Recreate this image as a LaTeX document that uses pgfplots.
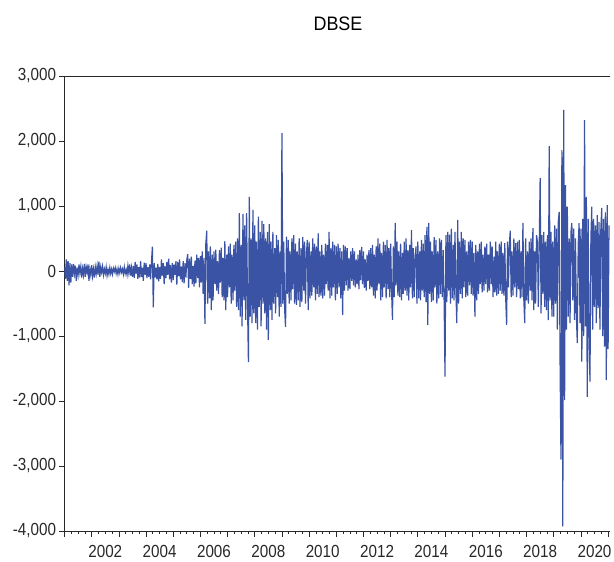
\documentclass[border=0pt]{standalone}
\usepackage{pgfplots}
\pgfplotsset{compat=1.18}
\usepackage{fontspec}
\setmainfont{Liberation Sans}
\newfontfamily\tickfont[FakeStretch=0.87]{Liberation Sans}
\newfontfamily\titlefont[FakeStretch=0.92]{Liberation Sans}
\definecolor{dbse}{RGB}{58,83,164}
\definecolor{axcol}{RGB}{40,40,40}
\begin{document}
\begin{tikzpicture}
\path[use as bounding box] (0,0) rectangle (614pt,562pt);
\begin{axis}[
  at={(64.5pt,31pt)}, anchor=south west,
  scale only axis, width=545.5pt, height=455pt,
  xmin=2001, xmax=2021.07, ymin=-4000, ymax=3000,
  axis lines*=left,
  axis line style={-, line width=0.8pt, axcol},
  tick align=outside,
  xtick={2001,2002,2003,2004,2005,2006,2007,2008,2009,2010,2011,2012,2013,2014,2015,2016,2017,2018,2019,2020,2021},
  xticklabels={},
  minor x tick num=3,
  major tick length=6pt, minor tick length=3pt,
  tick style={line width=0.7pt, axcol},
  extra x ticks={2002.5,2004.5,2006.5,2008.5,2010.5,2012.5,2014.5,2016.5,2018.5,2020.5},
  extra x tick labels={2002,2004,2006,2008,2010,2012,2014,2016,2018,2020},
  extra x tick style={major tick length=0pt},
  xticklabel style={font=\tickfont\fontsize{17.5}{20}\selectfont, anchor=north, yshift=-11pt, text=axcol},
  ytick={-4000,-3000,-2000,-1000,0,1000,2000,3000},
  yticklabels={{-4,000},{-3,000},{-2,000},{-1,000},0,{1,000},{2,000},{3,000}},
  yticklabel style={font=\tickfont\fontsize{17.5}{20}\selectfont, anchor=east, xshift=1pt, text=axcol},
]
\addplot[dbse, line width=1.2pt, line join=miter, mark=none] table[row sep=\\, x expr={2001+\coordindex/30}, y index=0] {
v\\
60\\ -120\\ 180\\ -150\\ 150\\ -220\\ 120\\ -180\\ 100\\ -90\\
110\\ -40\\ 80\\ -150\\ 50\\ -60\\ 100\\ -30\\ 70\\ -100\\
40\\ -60\\ 110\\ -90\\ 60\\ -20\\ 100\\ -150\\ 30\\ -60\\
90\\ -80\\ 30\\ -100\\ 60\\ -40\\ 80\\ -60\\ 145\\ -90\\
60\\ -20\\ 70\\ -60\\ 30\\ -40\\ 60\\ -70\\ 20\\ -50\\
50\\ -40\\ 30\\ -50\\ 40\\ -10\\ 50\\ -40\\ 30\\ -50\\
40\\ -30\\ 50\\ -20\\ 30\\ -50\\ 60\\ -40\\ 20\\ -60\\
80\\ -30\\ 100\\ -70\\ 50\\ -90\\ 80\\ -110\\ 140\\ -40\\
100\\ -120\\ 60\\ -100\\ 150\\ -90\\ 50\\ -150\\ 130\\ -60\\
120\\ -110\\ 60\\ -90\\ 100\\ -130\\ 140\\ 375\\ -560\\ 120\\
-100\\ 50\\ -130\\ 110\\ -160\\ 60\\ -120\\ 180\\ -70\\ 120\\
-200\\ 80\\ -110\\ 140\\ -60\\ 190\\ -130\\ 90\\ -180\\ 120\\
-140\\ 100\\ -60\\ 150\\ -210\\ 140\\ -80\\ 180\\ -130\\ 70\\
-170\\ 150\\ -190\\ 120\\ -100\\ 170\\ 260\\ -260\\ 190\\ -120\\
220\\ -200\\ 80\\ -240\\ 160\\ -190\\ 250\\ -110\\ 200\\ -250\\
230\\ -180\\ 300\\ -350\\ 200\\ -815\\ 420\\ 620\\ -500\\ 300\\
-420\\ 380\\ -600\\ 250\\ -450\\ 300\\ -200\\ 330\\ -300\\ 150\\
-350\\ 320\\ -180\\ 360\\ -400\\ 200\\ -450\\ 460\\ -600\\ 250\\
-400\\ 380\\ -250\\ 420\\ -500\\ 250\\ -450\\ 400\\ -300\\ 450\\
-550\\ 500\\ -600\\ 890\\ -700\\ 400\\ -850\\ 880\\ -450\\ 700\\
-750\\ 890\\ -500\\ -1400\\ 1140\\ -700\\ 500\\ -800\\ 940\\ -650\\
700\\ -800\\ 450\\ -900\\ 835\\ -550\\ 600\\ -850\\ 770\\ -500\\
720\\ -650\\ 500\\ -900\\ 600\\ -1060\\ 720\\ -600\\ 450\\ -750\\
600\\ -500\\ 350\\ -650\\ 550\\ -400\\ 480\\ -700\\ 300\\ -550\\
2120\\ -500\\ 450\\ -600\\ -860\\ 530\\ -350\\ 480\\ -500\\ 300\\
-450\\ 500\\ -280\\ 550\\ -500\\ 420\\ -520\\ 300\\ -450\\ 500\\
-550\\ 350\\ -480\\ 520\\ -300\\ 450\\ -500\\ 250\\ 480\\ -600\\
450\\ -420\\ 300\\ -380\\ 500\\ -250\\ 420\\ -450\\ 380\\ -350\\
580\\ -400\\ 300\\ -380\\ 400\\ -420\\ 250\\ -380\\ 420\\ -200\\
400\\ -300\\ 600\\ -420\\ 350\\ -380\\ 450\\ -250\\ 400\\ -450\\
380\\ -350\\ 420\\ -250\\ 350\\ -420\\ 300\\ -680\\ 400\\ -300\\
380\\ -220\\ 350\\ -300\\ 200\\ -280\\ 300\\ -150\\ 350\\ -220\\
300\\ -250\\ 180\\ -200\\ 250\\ -280\\ 320\\ -140\\ 370\\ -200\\
300\\ -260\\ 180\\ -300\\ 250\\ -150\\ 320\\ -280\\ 350\\ -250\\
400\\ -380\\ 250\\ -420\\ 380\\ -300\\ 500\\ -200\\ 420\\ -450\\
280\\ -400\\ 450\\ -250\\ 400\\ -420\\ 480\\ -280\\ 350\\ -400\\
420\\ -300\\ -750\\ 380\\ -400\\ 740\\ -220\\ 450\\ -380\\ 300\\
-400\\ 420\\ -450\\ 280\\ -350\\ 450\\ -300\\ 500\\ -380\\ 320\\
-450\\ 400\\ -250\\ 630\\ -420\\ 350\\ -400\\ 200\\ 380\\ -500\\
450\\ -420\\ 300\\ -450\\ 480\\ -300\\ 420\\ -400\\ 550\\ -480\\
680\\ -830\\ 740\\ -350\\ 450\\ -480\\ 300\\ -450\\ 520\\ -250\\
480\\ -500\\ 300\\ -420\\ 500\\ -350\\ 480\\ -400\\ 320\\ -450\\
-1625\\ 550\\ -480\\ 600\\ -300\\ 560\\ -500\\ 650\\ -420\\ 400\\
-450\\ 600\\ -300\\ -800\\ 785\\ -500\\ 450\\ -350\\ 600\\ -420\\
500\\ -250\\ 480\\ -400\\ 300\\ -380\\ 450\\ -220\\ 480\\ -350\\
450\\ -380\\ 280\\ -700\\ 400\\ -450\\ 300\\ -350\\ 420\\ -200\\
450\\ -330\\ 250\\ -300\\ 380\\ -200\\ 420\\ -330\\ 250\\ -300\\
450\\ -200\\ 380\\ -400\\ 220\\ -330\\ 450\\ -380\\ 300\\ -350\\
420\\ -300\\ 450\\ -350\\ 280\\ -380\\ 430\\ -420\\ -830\\ 450\\
-250\\ 400\\ 620\\ -400\\ 300\\ -380\\ 500\\ -250\\ 430\\ -400\\
450\\ -280\\ 480\\ -420\\ 300\\ -400\\ 740\\ -450\\ -800\\ 500\\
-450\\ 300\\ -500\\ 450\\ -300\\ 500\\ -450\\ 660\\ -600\\ 300\\
-500\\ 550\\ 450\\ -550\\ 400\\ 1430\\ -650\\ 550\\ -350\\ 600\\
-550\\ 450\\ -600\\ 550\\ -755\\ 1920\\ -450\\ 600\\ -700\\ 450\\
-700\\ 700\\ -500\\ 650\\ -900\\ 750\\ 910\\ -1415\\ -2900\\ 1860\\
-3930\\ 2480\\ -1985\\ 1320\\ -900\\ 990\\ -700\\ 500\\ -800\\ 600\\
735\\ -450\\ 650\\ -750\\ 500\\ -700\\ -1110\\ 400\\ 735\\ -800\\
650\\ -1395\\ 800\\ -1000\\ 2320\\ -850\\ 1140\\ -1935\\ 800\\ -1000\\
-1700\\ 500\\ 990\\ -900\\ 800\\ -550\\ 700\\ -800\\ 860\\ -570\\
750\\ -900\\ 650\\ 970\\ -1000\\ 800\\ -1165\\ 900\\ -1680\\ 1015\\
-1200\\ 700\\
};
\draw[line width=0.8pt, axcol] (rel axis cs:0,1) -- ([xshift=4pt]rel axis cs:1,1);
\end{axis}
\node at (338pt,538pt) {\titlefont\fontsize{19.5}{22}\selectfont DBSE};
\end{tikzpicture}
\end{document}
